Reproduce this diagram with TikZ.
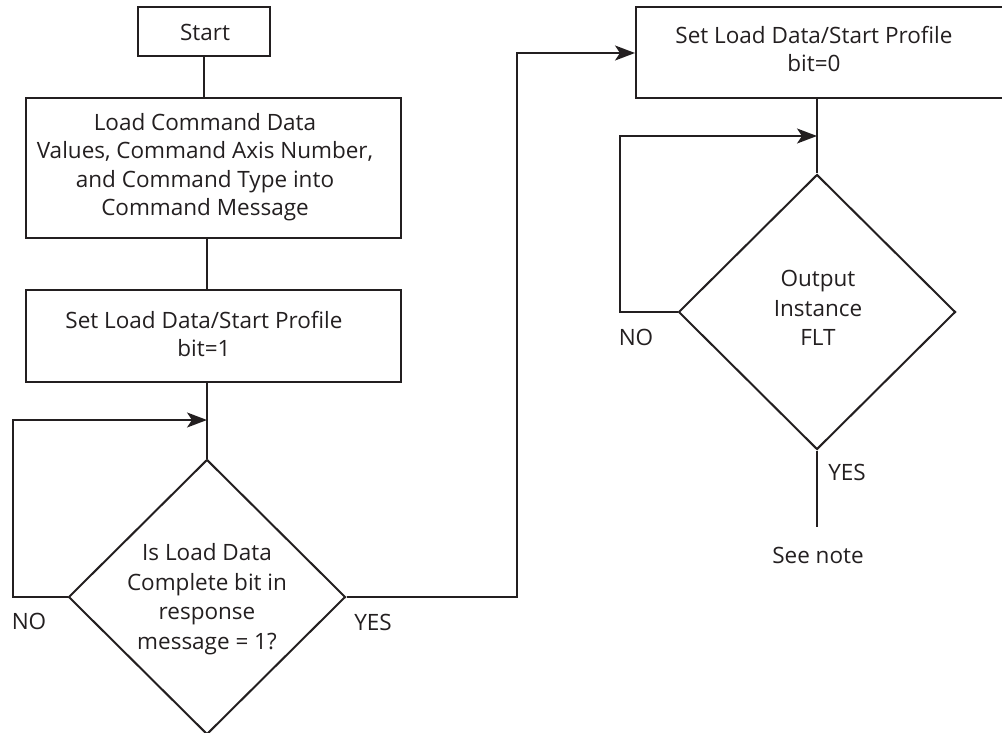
\documentclass[tikz,border=0pt]{standalone}
\usepackage{fontspec}
\setmainfont{Open Sans}
\usetikzlibrary{arrows.meta,shapes.geometric}
\definecolor{ink}{HTML}{231F20}
\tikzset{
  box/.style={draw=ink, line width=2pt, rectangle, inner sep=0pt},
  dia/.style={draw=ink, line width=2pt, diamond, inner sep=0pt, minimum width=277pt, minimum height=275pt},
  txt/.style={text=ink, align=center, inner sep=0pt, font=\fontsize{22.5}{28.5}\selectfont},
  conn/.style={draw=ink, line width=2pt},
  arr/.style={conn, -{Stealth[length=20pt,width=15pt,inset=5pt]}},
}
\begin{document}
\begin{tikzpicture}[x=1pt,y=-1pt]
\useasboundingbox (0,0) rectangle (1002,733);
\clip (0,0) rectangle (1002,733);
% boxes
\node[box, minimum width=132pt, minimum height=49pt] (start) at (204,31.5) {};
\node[txt] (tstart) at (205,32) {Start};
\node[box, minimum width=375pt, minimum height=140pt] (b2) at (213.5,168) {};
\node[txt] (tb2) at (205,167) {Load Command Data\\Values, Command Axis Number,\\and Command Type into\\Command Message};
\node[box, minimum width=375pt, minimum height=92pt] (b3) at (213.5,336) {};
\node[txt] (tb3) at (204,334) {Set Load Data/Start Profile\\bit=1};
\node[box, minimum width=380pt, minimum height=91pt] (b4) at (826,52.5) {};
\node[txt] (tb4) at (814,49) {Set Load Data/Start Profile\\bit=0};
% diamonds
\node[dia] (d1) at (207,597) {};
\node[txt, font=\fontsize{22.5}{29.5}\selectfont] (td1) at (207,599) {Is Load Data\\Complete bit in\\response\\message = 1?};
\node[dia] (d2) at (817,312) {};
\node[txt, font=\fontsize{22.5}{29.5}\selectfont] (td2) at (818,308) {Output\\Instance\\FLT};
% labels
\node[txt] (no1) at (29,621) {NO};
\node[txt] (yes1) at (373,622) {YES};
\node[txt] (no2) at (636,337) {NO};
\node[txt] (yes2) at (847,472) {YES};
\node[txt] (note) at (818,555) {See note};
% coordinates
\coordinate (m1) at (207,420);
\coordinate (l1) at (13,597);
\coordinate (y1) at (517,53);
\coordinate (m2) at (817,136);
\coordinate (l2) at (620,312);
\coordinate (e2) at (817,527);
% connectors
\draw[conn] (start.south) -- (start.south |- b2.north);
\draw[conn] (d1.north |- b2.south) -- (d1.north |- b3.north);
\draw[conn] (d1.north |- b3.south) -- (d1.north);
\draw[arr] (d1.west) -- (l1) |- (m1);
\draw[arr] (d1.east) -| (y1) -- (b4.west |- y1);
\draw[conn] (d2.north |- b4.south) -- (d2.north);
\draw[arr] (d2.west) -- (l2) |- (m2);
\draw[conn] (d2.south) -- (e2);
\end{tikzpicture}
\end{document}
